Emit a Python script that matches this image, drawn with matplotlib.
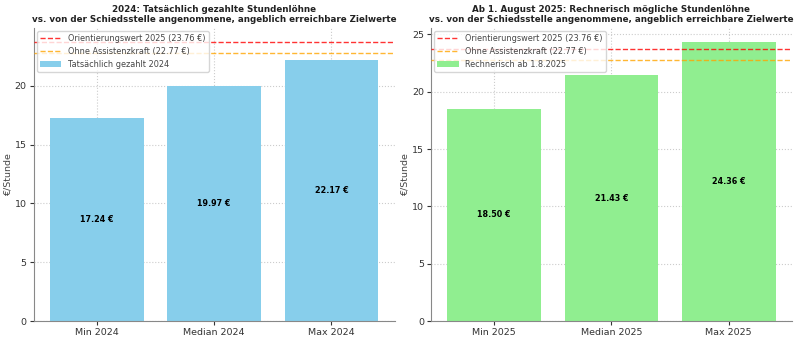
import matplotlib
matplotlib.use("Agg")
import matplotlib.pyplot as plt

# Stundenlöhne 2024 (tatsächlich gezahlt) und ab 1.8.2025 (rechnerisch)
labels_2024 = ["Min 2024", "Median 2024", "Max 2024"]
werte_2024 = [17.24, 19.97, 22.17]
labels_2025 = ["Min 2025", "Median 2025", "Max 2025"]
werte_2025 = [18.50, 21.43, 24.36]

orientierungswert = 23.76
ohne_assistenz = 22.77

plt.rcParams["font.family"] = "DejaVu Sans"

fig, axes = plt.subplots(1, 2, figsize=(8, 3.39), dpi=100)
fig.subplots_adjust(left=0.042, right=0.99, bottom=0.053, top=0.918, wspace=0.1)

panels = [
    (axes[0], labels_2024, werte_2024, "skyblue", "Tatsächlich gezahlt 2024",
     "2024: Tatsächlich gezahlte Stundenlöhne\nvs. von der Schiedsstelle angenommene, angeblich erreichbare Zielwerte"),
    (axes[1], labels_2025, werte_2025, "lightgreen", "Rechnerisch ab 1.8.2025",
     "Ab 1. August 2025: Rechnerisch mögliche Stundenlöhne\nvs. von der Schiedsstelle angenommene, angeblich erreichbare Zielwerte"),
]

for ax, labels, werte, farbe, name, titel in panels:
    bars = ax.bar(labels, werte, color=farbe, label=name, zorder=2)
    ax.axhline(orientierungswert, color="red", linestyle="--", linewidth=1, alpha=0.8,
               label=f"Orientierungswert 2025 ({orientierungswert:.2f} €)", zorder=3)
    ax.axhline(ohne_assistenz, color="orange", linestyle="--", linewidth=1, alpha=0.8,
               label=f"Ohne Assistenzkraft ({ohne_assistenz:.2f} €)", zorder=3)
    for bar, w in zip(bars, werte):
        ax.text(bar.get_x() + bar.get_width() / 2, w / 2, f"{w:.2f} €",
                ha="center", va="center", fontsize=5.8, fontweight="bold", zorder=4)
    ax.set_title(titel, fontsize=6.3, fontweight="bold", pad=4, color="#222222")
    ax.set_ylabel("€/Stunde", fontsize=6.8, color="#444444", labelpad=1.5)
    ax.tick_params(labelsize=6.8, colors="#333333", length=3, pad=2)
    ax.grid(True, linestyle=":", color="#cccccc", linewidth=0.8, zorder=0)
    for s in ["top", "right"]:
        ax.spines[s].set_visible(False)
    for s in ["left", "bottom"]:
        ax.spines[s].set_color("#888888")
    leg = ax.legend(loc="upper left", fontsize=5.9, framealpha=0.8, borderaxespad=0.4,
                    handlelength=2.6, labelspacing=0.45, borderpad=0.4)
    for t in leg.get_texts():
        t.set_color("#444444")

fig.savefig("out.png", dpi=100)
